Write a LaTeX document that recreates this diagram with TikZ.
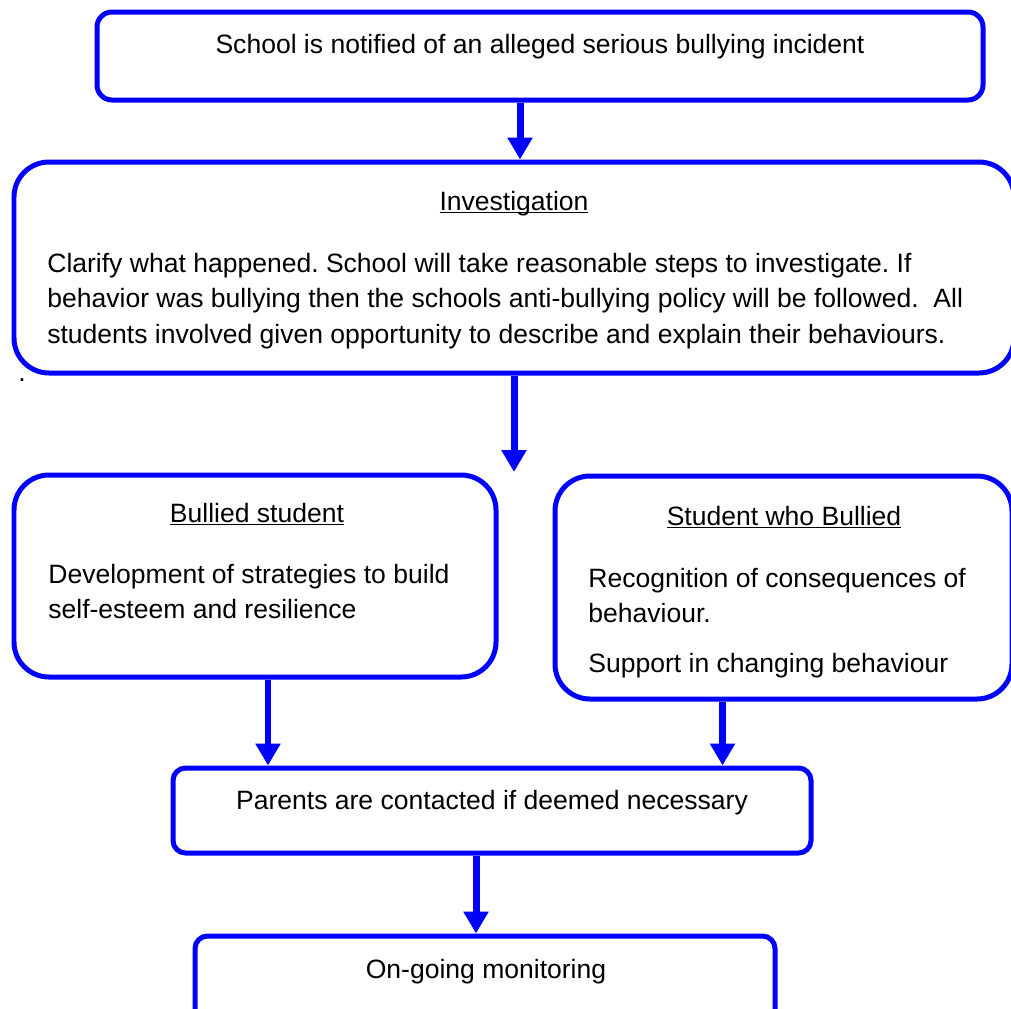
\documentclass[tikz,border=0pt]{standalone}
\usepackage{fontspec}
\setmainfont{Liberation Sans}
\usetikzlibrary{arrows.meta,fit}
\newcommand{\ulin}[1]{\setbox0\hbox{#1}\rlap{\rule[-1.9pt]{\wd0}{1pt}}\box0}

\begin{document}
\frenchspacing
\begin{tikzpicture}[x=0.02cm,y=-0.02cm,
		box/.style={draw=blue, line width=0.1cm, inner sep=0pt},
		arr/.style={blue, line width=0.14cm, -{Triangle[width=0.48cm,length=0.44cm]}},
		txt/.style={black, inner sep=0pt, font=\fontsize{15.1}{20}\selectfont}]
		\useasboundingbox (0,0) rectangle (1011,1008);
		
		% boxes
		\node[box, rounded corners=0.3cm, fit={(97,12) (983,100)}] (notify) {};
		\node[box, rounded corners=0.7cm, fit={(14,162) (1014,373)}] (invest) {};
		\node[box, rounded corners=0.7cm, fit={(14,475) (496,677)}] (bullied) {};
		\node[box, rounded corners=0.7cm, fit={(555,476) (1012,699)}] (bully) {};
		\node[box, rounded corners=0.25cm, fit={(173,768) (811,853)}] (parents) {};
		\node[box, rounded corners=0.25cm, fit={(195,936) (775,1040)}] (monitor) {};
		\coordinate (split) at (514,472);
		
		% arrows
		\draw[arr] ([xshift=-0.4cm]notify.south) -- ([xshift=-0.4cm]notify.south |- invest.north);
		\draw[arr] (invest.south) -- (split);
		\draw[arr] ([xshift=0.26cm]bullied.south) -- ([xshift=0.26cm]bullied.south |- parents.north);
		\draw[arr] ([xshift=-1.22cm]bully.south) -- ([xshift=-1.22cm]bully.south |- parents.north);
		\draw[arr] ([xshift=-0.32cm]parents.south) -- ([xshift=-0.32cm]parents.south |- monitor.north);
		
		% texts
		\node[txt, anchor=base] (notifytxt) at (540,53) {School is notified of an alleged serious bullying incident};
		\node[txt, anchor=base] (investhead) at (514,210) {\ulin{Investigation}};
		\node[txt, anchor=base west] (investa) at (47,272) {Clarify what happened. School will take reasonable steps to investigate. If};
		\node[txt, anchor=base west] (investb) at (47,307) {behavior was bullying then the schools anti-bullying policy will be followed.\ \ All};
		\node[txt, anchor=base west] (investc) at (47,343) {students involved given opportunity to describe and explain their behaviours.};
		\node[txt, anchor=base] (dot) at (22,381) {.};
		
		\node[txt, anchor=base] (bulliedhead) at (257,522) {\ulin{Bullied student}};
		\node[txt, anchor=base west] (bullieda) at (48,583) {Development of strategies to build};
		\node[txt, anchor=base west] (bulliedb) at (48,618) {self-esteem and resilience};
		
		\node[txt, anchor=base] (bullyhead) at (784,525) {\ulin{Student who Bullied}};
		\node[txt, anchor=base west] (bullya) at (588,587) {Recognition of consequences of};
		\node[txt, anchor=base west] (bullyb) at (588,622) {behaviour.};
		\node[txt, anchor=base west] (bullyc) at (588,672) {Support in changing behaviour};
		
		\node[txt, anchor=base] (parentstxt) at (492,809) {Parents are contacted if deemed necessary};
		\node[txt, anchor=base] (monitortxt) at (486,978) {On-going monitoring};
	\end{tikzpicture}
\end{document}
